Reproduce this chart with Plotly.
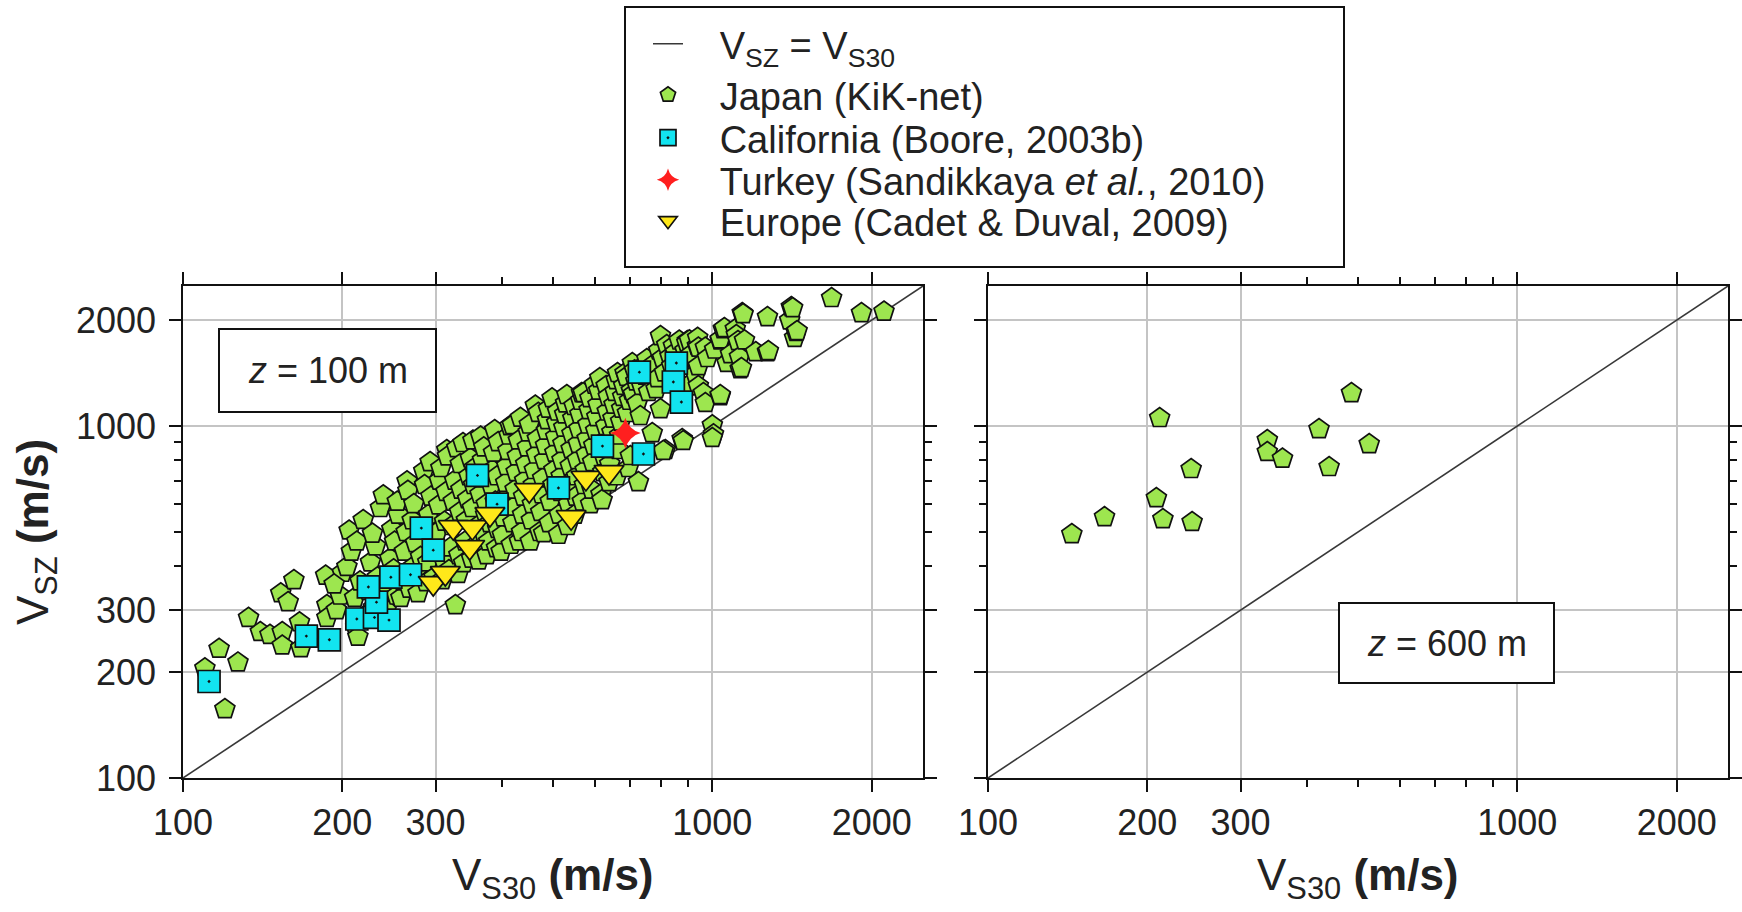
import math
import plotly.graph_objects as go

# ---- data: shear-wave velocity at depth z vs. VS30 (m/s) ----
# Japan (KiK-net), z = 100 m
japan_x = [
    110, 117, 120, 127, 133, 140, 146, 153, 158, 154, 154, 162, 166, 167, 187, 187, 186, 200,
    195, 198, 193, 204, 208, 206, 212, 214, 211, 216, 213,
    221, 219, 224, 226, 229, 231, 233, 228, 235, 236,
    239, 242, 244, 246, 248, 250, 251, 253, 255, 254,
    258, 260, 262, 264, 265, 266, 268, 270, 271, 273, 275,
    278, 279, 281, 283, 285, 286, 288, 290, 291, 293, 294, 295,
    298, 300, 302, 304, 305, 307, 309, 311, 312, 314, 315, 316,
    318, 320, 322, 324, 326, 327, 329, 331, 332, 333, 335, 334,
    338, 339, 341, 343, 345, 347, 349, 351, 352, 354, 355, 353,
    358, 360, 362, 365, 364, 366, 368, 370, 371, 373, 375, 374,
    378, 380, 382, 384, 386, 388, 389, 391, 393, 394, 395, 392,
    399, 401, 403, 405, 407, 409, 411, 413, 415, 417, 419, 420,
    422, 424, 426, 428, 430, 432, 434, 436, 438, 440, 442, 444,
    447, 449, 451, 453, 455, 457, 459, 461, 463, 465, 467, 469,
    472, 474, 476, 478, 480, 482, 484, 486, 488, 490, 492, 494,
    498, 500, 502, 504, 506, 508, 510, 512, 514, 516, 518, 520,
    522, 524, 526, 528, 531, 533, 535, 537, 539, 541, 543, 545,
    548, 550, 552, 554, 556, 558, 560, 562, 564, 566, 568, 570,
    573, 575, 578, 580, 582, 585, 587, 589, 592, 594, 597, 599,
    602, 605, 608, 610, 613, 616, 619, 621, 624, 627, 629, 630,
    633, 636, 638, 640, 643, 646, 649, 652, 655, 658, 660, 662,
    665, 668, 671, 674, 677, 680, 684, 688, 691, 694, 697, 700,
    703, 706, 709, 713, 717, 721, 725, 731, 735, 740, 746, 752,
    758, 765, 770, 776, 783, 788, 792, 798, 798, 805, 812, 820,
    815, 808, 832, 838, 844, 852, 860, 866, 872, 877, 881, 888, 897, 897, 895,
    905, 912, 929, 937, 938, 941, 941, 941, 962, 970, 970, 979, 1000, 1005, 1000, 1010,
    1035, 1035, 1035, 1035, 1049, 1054, 1066, 1082, 1105, 1110, 1118, 1125, 1129, 1135, 1139, 1143, 1150,
    1208, 1271, 1271, 1276, 1400, 1410, 1418, 1430, 1440, 1446, 1680, 1913, 2110,
]
japan_y = [
    205, 233, 157, 213, 285, 260, 255, 335, 316, 260, 238, 365, 277, 234, 310, 285, 376, 383,
    300, 330, 355, 398, 440, 505, 268, 252, 325, 362, 470,
    290, 541, 340, 410, 305, 455, 372, 495, 320, 585,
    636, 300, 345, 420, 510, 392, 470, 330, 560, 610,
    325, 362, 440, 500, 697, 655, 345, 395, 540, 600, 465,
    335, 380, 425, 520, 745, 680, 360, 410, 560, 790, 630, 480,
    372, 440, 500, 595, 700, 760, 365, 415, 535, 650, 855, 820,
    390, 452, 520, 610, 700, 310, 866, 380, 430, 570, 660, 780,
    895, 408, 470, 540, 620, 720, 810, 420, 585, 680, 760, 910,
    460, 520, 415, 934, 640, 710, 800, 870, 490, 560, 430, 600,
    470, 530, 680, 750, 840, 974, 610, 450, 510, 900, 570, 720,
    440, 490, 550, 620, 690, 770, 850, 940, 1000, 460, 1006, 530,
    590, 660, 740, 820, 910, 470, 1056, 500, 560, 630, 700, 780,
    870, 960, 1010, 470, 540, 600, 680, 750, 1144, 830, 920, 1090,
    500, 570, 640, 710, 496, 800, 880, 970, 1040, 1120, 530, 610,
    1200, 680, 750, 840, 930, 1020, 1100, 491, 560, 650, 720, 800,
    890, 990, 1080, 1160, 1225, 520, 600, 690, 770, 860, 950, 1050,
    1140, 560, 630, 720, 800, 890, 980, 1080, 1180, 1240, 610, 1241,
    680, 750, 830, 920, 1010, 1110, 1200, 600, 660, 790, 880, 1310,
    970, 1060, 1150, 1260, 1368, 640, 616, 740, 820, 910, 1000, 1300,
    1100, 1210, 693, 780, 860, 960, 1050, 1150, 1250, 1350, 720, 1415,
    855, 940, 1030, 1120, 1210, 1300, 1415, 1380, 1089, 760, 1180, 822,
    1260, 1511, 1233, 1440, 1340, 1160, 693, 1068, 1300, 1480, 1390, 1550,
    1250, 1445, 955, 1500, 1274, 1368, 1640, 1117, 1802, 1560, 1420, 1700,
    855, 850, 1573, 1480, 1688, 1620, 1300, 1750, 1520, 918, 907, 1640, 1299, 1744, 1723,
    1752, 1600, 1405, 1688, 1780, 1480, 1299, 1671, 1241, 1163, 1671, 1561, 1005, 948, 925, 1650,
    1217, 1225, 1752, 1764, 1886, 1898, 1511, 1601, 1886, 1814, 1744, 1571, 1452, 1462, 2094, 2080, 1752,
    1622, 2040, 1622, 1633, 1997, 2178, 2164, 1780, 1850, 1862, 2311, 2094, 2115,
]

# California (Boore, 2003b), z = 100 m
california_x = [112, 171, 189, 213, 230, 245, 232, 224, 247, 269, 282, 297,
                360, 392, 512, 620, 741, 728, 855, 844, 874]
california_y = [188, 253, 247, 283, 286, 281, 316, 349, 372, 378, 513, 444,
                724, 600, 667, 877, 833, 1423, 1510, 1334, 1170]

# Turkey (Sandikkaya et al., 2010), z = 100 m
turkey_x = [685]
turkey_y = [955]

# Europe (Cadet & Duval, 2009), z = 100 m
europe_x = [297, 313, 324, 352, 348, 380, 451, 541, 577, 638]
europe_y = [358, 382, 516, 516, 453, 562, 658, 551, 712, 740]

# Japan (KiK-net), z = 600 m
japan600_x = [144, 166, 208, 214, 211, 242, 243, 337, 337, 360, 422, 441, 486, 525]
japan600_y = [493, 551, 624, 544, 1054, 755, 534, 912, 844, 808, 980, 765, 1241, 889]

# 1:1 reference line end points and axis extent
ref_line = [100, 2500]
axis_min, axis_max = 100, 2500

major_ticks = [100, 200, 300, 1000, 2000]
minor_ticks = [400, 500, 600, 700, 800, 900]

legend_names = [
    "V<sub>SZ</sub> = V<sub>S30</sub>",
    "Japan (KiK-net)",
    "California (Boore, 2003b)",
    "Turkey (Sandikkaya <i>et al.</i>, 2010)",
    "Europe (Cadet &amp; Duval, 2009)",
]

# ---- figure geometry (pixels) ----
W, H = 1742, 912
FONT = "Arial, Liberation Sans, sans-serif"
NB = "\u00a0"


def px_x(p):
    return p / W


def px_y(p):
    return 1 - p / H


GREEN = "#9de64f"
CYAN = "#12e4f0"
YELLOW = "#ffe81a"
RED = "#ff1f1f"
EDGE = "#111111"
PAD = NB * 3

fig = go.Figure()

# left panel: z = 100 m
fig.add_trace(go.Scatter(
    x=ref_line, y=ref_line, mode="lines",
    line=dict(color="#383838", width=1.6),
    name=PAD + legend_names[0], legend="legend",
    xaxis="x", yaxis="y",
))
fig.add_trace(go.Scatter(
    x=japan_x, y=japan_y, mode="markers",
    marker=dict(symbol="pentagon", size=21, color=GREEN, line=dict(color=EDGE, width=1.7)),
    name=PAD + legend_names[1], legend="legend2", xaxis="x", yaxis="y",
))
fig.add_trace(go.Scatter(
    x=california_x, y=california_y, mode="markers",
    marker=dict(symbol="square-dot", size=22, color=CYAN, line=dict(color=EDGE, width=1.7)),
    name=PAD + legend_names[2], legend="legend3", xaxis="x", yaxis="y",
))
fig.add_trace(go.Scatter(
    x=turkey_x, y=turkey_y, mode="markers",
    marker=dict(symbol="star-diamond", size=22, color=RED, line=dict(width=0)),
    name=PAD + legend_names[3], legend="legend4", xaxis="x", yaxis="y",
))
fig.add_trace(go.Scatter(
    x=europe_x, y=europe_y, mode="markers",
    marker=dict(symbol="triangle-down", size=26, color=YELLOW, line=dict(color=EDGE, width=1.7)),
    name=PAD + legend_names[4], legend="legend5", xaxis="x", yaxis="y",
))

# right panel: z = 600 m
fig.add_trace(go.Scatter(
    x=ref_line, y=ref_line, mode="lines",
    line=dict(color="#383838", width=1.6), showlegend=False,
    xaxis="x2", yaxis="y2",
))
fig.add_trace(go.Scatter(
    x=japan600_x, y=japan600_y, mode="markers",
    marker=dict(symbol="pentagon", size=21, color=GREEN, line=dict(color=EDGE, width=1.7)),
    showlegend=False, xaxis="x2", yaxis="y2",
))

log_range = [math.log10(axis_min), math.log10(axis_max)]
tick_font = dict(family=FONT, size=36, color="#222222")


def axis_style(show_labels=True, standoff=0):
    return dict(
        type="log", range=log_range,
        tickmode="array", tickvals=major_ticks, ticktext=[str(v) for v in major_ticks],
        ticks="outside", ticklen=12, tickwidth=1.5, tickcolor="#111111",
        showline=True, linecolor="#111111", linewidth=1.5, mirror="allticks",
        showgrid=True, gridcolor="#c4c4c4", gridwidth=1.6, zeroline=False,
        minor=dict(tickmode="array", tickvals=minor_ticks, ticks="outside",
                   ticklen=7, tickwidth=1.5, tickcolor="#111111", showgrid=False),
        showticklabels=show_labels, tickfont=tick_font, ticklabelstandoff=standoff,
        automargin=False,
    )


legend_font = dict(family=FONT, size=38, color="#222222")
row_centers = [44, 95, 138, 180, 221]
legends = {}
for i, yc in enumerate(row_centers):
    key = "legend" if i == 0 else f"legend{i + 1}"
    legends[key] = dict(
        x=px_x(648), y=px_y(yc), xanchor="left", yanchor="middle",
        bgcolor="rgba(0,0,0,0)", borderwidth=0, font=legend_font, itemwidth=30,
    )

fig.update_layout(
    width=W, height=H,
    margin=dict(l=0, r=0, t=0, b=0, pad=0, autoexpand=False),
    paper_bgcolor="white", plot_bgcolor="white",
    font=dict(family=FONT, color="#222222"),
    xaxis=dict(domain=[px_x(183), px_x(923)], anchor="y", **axis_style()),
    yaxis=dict(domain=[px_y(778), px_y(286)], anchor="x", **axis_style(standoff=6)),
    xaxis2=dict(domain=[px_x(988), px_x(1728)], anchor="y2", **axis_style()),
    yaxis2=dict(domain=[px_y(778), px_y(286)], anchor="x2", **axis_style(False)),
    showlegend=True,
    **legends,
)

# legend frame and panel labels
shapes = [
    dict(type="rect", xref="paper", yref="paper",
         x0=px_x(625), x1=px_x(1344), y0=px_y(267), y1=px_y(7),
         line=dict(color="#111111", width=2), fillcolor="rgba(0,0,0,0)"),
    dict(type="rect", xref="paper", yref="paper",
         x0=px_x(219), x1=px_x(436), y0=px_y(412), y1=px_y(329),
         line=dict(color="#111111", width=2), fillcolor="white"),
    dict(type="rect", xref="paper", yref="paper",
         x0=px_x(1339), x1=px_x(1554), y0=px_y(683), y1=px_y(603),
         line=dict(color="#111111", width=2), fillcolor="white"),
]
fig.update_layout(shapes=shapes)

label_font = dict(family=FONT, size=36, color="#222222")
title_font = dict(family=FONT, size=44, color="#222222")
annotations = [
    dict(text="<i>z</i> = 100 m", x=px_x(327.5), y=px_y(370.5), xref="paper", yref="paper",
         showarrow=False, font=label_font, xanchor="center", yanchor="middle"),
    dict(text="<i>z</i> = 600 m", x=px_x(1446.5), y=px_y(643), xref="paper", yref="paper",
         showarrow=False, font=label_font, xanchor="center", yanchor="middle"),
    dict(text="V<sub>S30</sub> <b>(m/s)</b>", x=px_x(553), y=px_y(878), xref="paper", yref="paper",
         showarrow=False, font=title_font, xanchor="center", yanchor="middle"),
    dict(text="V<sub>S30</sub> <b>(m/s)</b>", x=px_x(1358), y=px_y(878), xref="paper", yref="paper",
         showarrow=False, font=title_font, xanchor="center", yanchor="middle"),
    dict(text="V<sub>SZ</sub> <b>(m/s)</b>", x=px_x(36), y=px_y(532), xref="paper", yref="paper",
         showarrow=False, font=title_font, textangle=-90, xanchor="center", yanchor="middle"),
]
fig.update_layout(annotations=annotations)

fig.write_html("out.html")
